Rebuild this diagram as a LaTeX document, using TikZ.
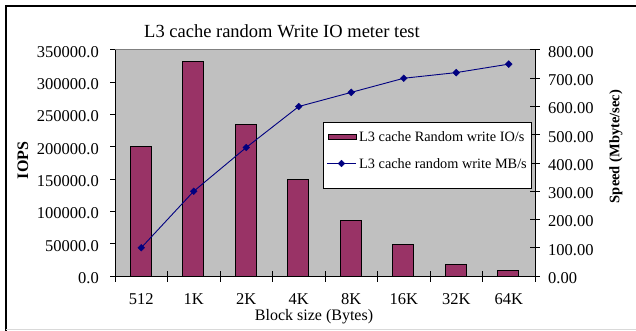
\documentclass[tikz,border=0pt]{standalone}
\usepackage{fontspec}
\setmainfont{Liberation Serif}
\usetikzlibrary{shapes.geometric}
\definecolor{barc}{HTML}{993366}
\definecolor{linec}{HTML}{000080}
\definecolor{plotbg}{HTML}{C0C0C0}
\begin{document}
\begin{tikzpicture}[x=1pt,y=-1pt,
  ticklab/.style={inner sep=0pt,font=\fontsize{16.5}{18}\selectfont},
  legtext/.style={inner sep=0pt,anchor=west,font=\fontsize{14.3}{16}\selectfont},
  mk/.style={diamond,fill=linec,draw=linec,inner sep=0pt,minimum size=7pt},
  barbox/.style={draw=black,fill=barc,line width=0.9pt},
  axisline/.style={draw=black,line width=1pt}]
\useasboundingbox (0,0) rectangle (636,331);
\fill[white] (0,0) rectangle (636,331);
% outer frame
\draw[black,line width=1.3pt] (6,331) -- (6,6) -- (636,6);
\draw[black!15,line width=1pt] (6,329.5) -- (636,329.5);
% title
\node[inner sep=0pt,anchor=base,font=\fontsize{18.5}{20}\selectfont] (title) at (282,37.5) {L3 cache random Write IO meter test};
% plot area
\fill[plotbg] (115,50) rectangle (535,276);
\draw[black!50,line width=1pt] (110,50) -- (535,50);
% bars
\foreach \i/\v in {0/200,1/333,2/234,3/150,4/85.6,5/49.5,6/18.1,7/8.2}{
  \draw[barbox] ({130+52.5*\i},276) rectangle ({151+52.5*\i},{276-\v/350*226});
}
% axes
\draw[axisline] (115,50) -- (115,276) -- (535,276);
\draw[axisline] (535,50) -- (535,276);
% left ticks
\foreach \k/\lab in {0/0.0,1/50000.0,2/100000.0,3/150000.0,4/200000.0,5/250000.0,6/300000.0,7/350000.0}{
  \draw[axisline] (110,{276-\k*226/7}) -- (115,{276-\k*226/7});
  \node[ticklab,anchor=east] (l\k) at (99,{278-\k*226/7}) {\lab};
}
% right ticks
\foreach \k/\lab in {0/0.00,1/100.00,2/200.00,3/300.00,4/400.00,5/500.00,6/600.00,7/700.00,8/800.00}{
  \draw[axisline] (530,{276-\k*226/8}) -- (540,{276-\k*226/8});
  \node[ticklab,anchor=west] (r\k) at (548,{278-\k*226/8}) {\lab};
}
% bottom ticks
\foreach \k in {0,...,8}{
  \draw[axisline] ({115+52.5*\k},271) -- ({115+52.5*\k},282);
}
\foreach \i/\lab in {0/512,1/1K,2/2K,3/4K,4/8K,5/16K,6/32K,7/64K}{
  \node[ticklab] (c\i) at ({141.25+52.5*\i},299) {\lab};
}
% axis titles
\node[inner sep=0pt,font=\fontsize{16}{18}\selectfont] (xt) at (314,316.5) {Block size (Bytes)};
\node[inner sep=0pt,rotate=90,font=\bfseries\fontsize{16}{18}\selectfont] (yt) at (23,160.5) {IOPS};
\node[inner sep=0pt,rotate=90,font=\bfseries\fontsize{14.5}{16}\selectfont] (yt2) at (616,146.5) {Speed (Mbyte/sec)};
% line series
\foreach \i/\m in {0/100,1/300,2/455,3/600,4/650,5/700,6/720,7/750}{
  \coordinate (m\i) at ({141.25+52.5*\i},{276-\m/800*226});
}
\draw[linec,line width=0.9pt] (m0) -- (m1) -- (m2) -- (m3) -- (m4) -- (m5) -- (m6) -- (m7);
\foreach \i in {0,...,7}{ \node[mk] (d\i) at (m\i) {}; }
% legend
\draw[black,fill=white,line width=1pt] (323,123) rectangle (531,188);
\draw[barbox] (328,134.5) rectangle (356,139);
\node[legtext] (lg1) at (359,137) {L3 cache Random write IO/s};
\coordinate (la) at (327,163.5);
\coordinate (lb) at (356,163.5);
\draw[linec,line width=0.9pt] (la) -- (lb);
\node[mk] (lm) at (341.5,163.5) {};
\node[legtext] (lg2) at (359,164) {L3 cache random write MB/s};
\end{tikzpicture}
\end{document}
